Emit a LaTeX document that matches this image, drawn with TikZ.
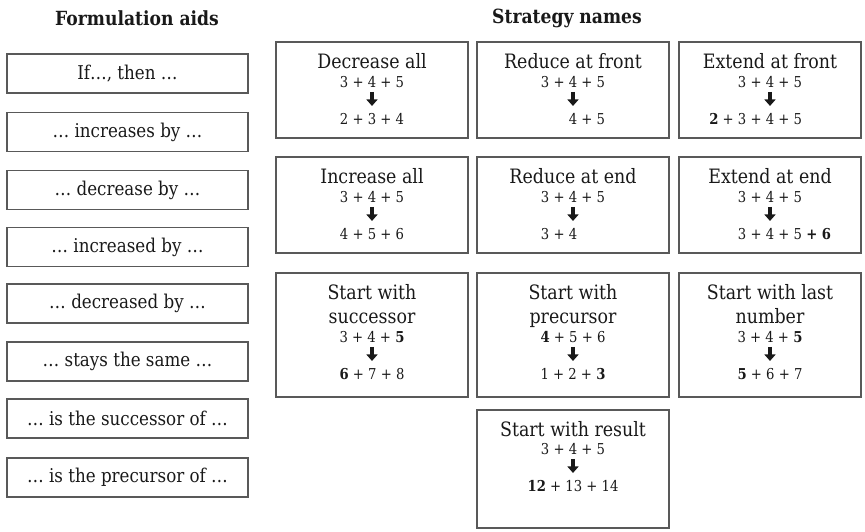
\documentclass[tikz,border=0pt]{standalone}
\usepackage{fontspec}
\setmainfont{DejaVu Serif}[FakeStretch=0.88]
\usetikzlibrary{arrows.meta}
\newcommand\mkstrat[8]{%
  \node[strat, minimum width=#4pt, minimum height=#5pt] (#1) at (#2,#3+#5/2) {};
  \node[ttl, anchor=base] (#1t) at ([yshift=-27pt]#1.north) {#6};
  \node[ttl, anchor=base] (#1u) at ([yshift=-51.5pt]#1.north) {#7};
}
\newcommand\mknums[4]{%
  \node[num, anchor=base] (#1n) at ([yshift=-46.5pt-#2pt]#1.north) {#3};
  \coordinate (#1a) at ([yshift=-50.5pt-#2pt]#1.north);
  \coordinate (#1b) at ([yshift=-64.5pt-#2pt]#1.north);
  \draw[darr] (#1a) -- (#1b);
  \node[num, anchor=base] (#1r) at ([yshift=-83.5pt-#2pt]#1.north) {#4};
}
\begin{document}
\begin{tikzpicture}[x=1pt,y=-1pt,
  box/.style={draw=black!65, line width=1.1pt},
  aid/.style={box, minimum width=241pt, minimum height=39pt, inner sep=0pt, font=\fontsize{19}{22}\selectfont, text=black!90},
  strat/.style={box, inner sep=0pt},
  ttl/.style={font=\fontsize{19.8}{23}\selectfont, inner sep=0pt, text=black!90},
  num/.style={font=\fontsize{15}{17}\selectfont, inner sep=0pt, text=black!90},
  darr/.style={line width=3.4pt, black!90, -{Triangle[width=11pt,length=6.5pt]}},
  hdr/.style={font=\bfseries\fontsize{19.5}{22}\selectfont, inner sep=0pt, text=black!90}]
\useasboundingbox (0,0) rectangle (865,531);
\node[hdr] (h1) at (137,18) {Formulation aids};
\node[hdr] (h2) at (567,18) {Strategy names};
\node[aid] (a1) at (127.5,73.5) {If…, then …};
\node[aid] (a2) at (127.5,132) {… increases by …};
\node[aid] (a3) at (127.5,190) {… decrease by …};
\node[aid] (a4) at (127.5,247) {… increased by …};
\node[aid] (a5) at (127.5,303.5) {… decreased by …};
\node[aid] (a6) at (127.5,361.5) {… stays the same …};
\node[aid] (a7) at (127.5,418.5) {… is the successor of …};
\node[aid] (a8) at (127.5,477.5) {… is the precursor of …};
% row 1
\mkstrat{s1}{372}{42}{192}{96}{Decrease all}{}{0}
\mknums{s1}{0}{3 + 4 + 5}{2 + 3 + 4}
\mkstrat{s2}{573}{42}{192}{96}{Reduce at front}{}{0}
\mknums{s2}{0}{3 + 4 + 5}{\phantom{3 + }4 + 5}
\mkstrat{s3}{770}{42}{182}{96}{Extend at front}{}{0}
\mknums{s3}{0}{3 + 4 + 5}{\llap{\textbf{2} + }3 + 4 + 5}
% row 2
\mkstrat{s4}{372}{157}{192}{96}{Increase all}{}{0}
\mknums{s4}{0}{3 + 4 + 5}{4 + 5 + 6}
\mkstrat{s5}{573}{157}{192}{96}{Reduce at end}{}{0}
\mknums{s5}{0}{3 + 4 + 5}{3 + 4\phantom{ + 5}}
\mkstrat{s6}{770}{157}{182}{96}{Extend at end}{}{0}
\mknums{s6}{0}{3 + 4 + 5}{3 + 4 + 5\rlap{ \textbf{+ 6}}}
% row 3
\mkstrat{s7}{372}{273}{192}{124}{Start with}{successor}{0}
\mknums{s7}{24}{3 + 4 + \textbf{5}}{\textbf{6} + 7 + 8}
\mkstrat{s8}{573}{273}{192}{124}{Start with}{precursor}{0}
\mknums{s8}{24}{\textbf{4} + 5 + 6}{1 + 2 + \textbf{3}}
\mkstrat{s9}{770}{273}{182}{124}{Start with last}{number}{0}
\mknums{s9}{24}{3 + 4 + \textbf{5}}{\textbf{5} + 6 + 7}
% row 4
\mkstrat{s10}{573}{410}{192}{118}{Start with result}{}{0}
\mknums{s10}{-1}{3 + 4 + 5}{\textbf{12} + 13 + 14}
\end{tikzpicture}
\end{document}
